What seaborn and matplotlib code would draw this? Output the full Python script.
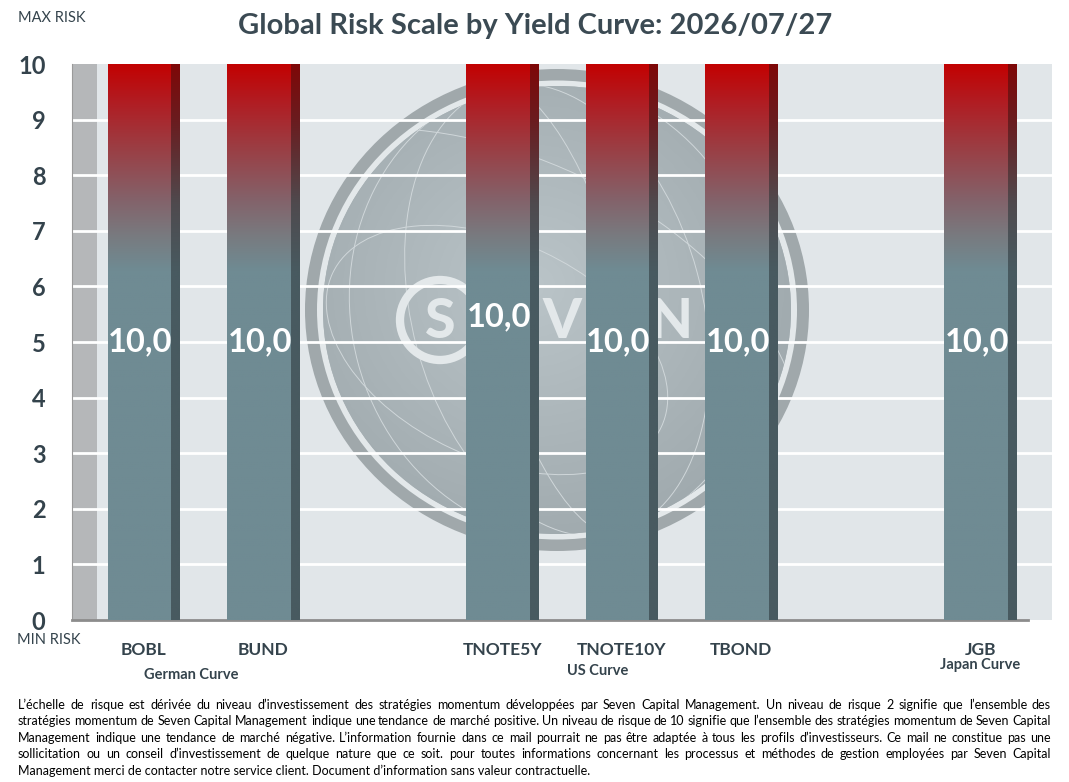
import numpy as np
import pandas as pd
import matplotlib
matplotlib.use("Agg")
import matplotlib.pyplot as plt
import seaborn as sns
from matplotlib.colors import LinearSegmentedColormap
from matplotlib.patches import Circle, Ellipse
from matplotlib.transforms import blended_transform_factory

# data
instruments = ["BOBL", "BUND", "TNOTE5Y", "TNOTE10Y", "TBOND", "JGB"]
risk_levels = [10.0, 10.0, 10.0, 10.0, 10.0, 10.0]
slot_order = ["BOBL", "BUND", "gap_a", "TNOTE5Y", "TNOTE10Y", "TBOND", "gap_b", "JGB"]
curve_groups = ["German Curve", "US Curve", "Japan Curve"]
curve_anchor = ["BOBL", "TNOTE10Y", "JGB"]
title_date = "2026/07/27"

footnote_lines = [
    "L’échelle de risque est dérivée du niveau d’investissement des stratégies momentum développées par Seven Capital Management. Un niveau de risque 2 signifie que l’ensemble des",
    "stratégies momentum de Seven Capital Management indique une tendance de marché positive. Un niveau de risque de 10 signifie que l’ensemble des stratégies momentum de Seven Capital",
    "Management indique une tendance de marché négative. L’information fournie dans ce mail pourrait ne pas être adaptée à tous les profils d’investisseurs. Ce mail ne constitue pas une",
    "sollicitation ou un conseil d’investissement de quelque nature que ce soit. pour toutes informations concernant les processus et méthodes de gestion employées par Seven Capital",
    "Management merci de contacter notre service client. Document d’information sans valeur contractuelle.",
]

sns.set_style("white")
plt.rcParams["font.family"] = ["Lato", "DejaVu Sans"]

DARK = "#34434c"
BG = "#e1e6e9"
W_PX, H_PX = 1069, 782
PLOT_L, PLOT_R, PLOT_T, PLOT_B = 72, 1052, 64, 620

df = pd.DataFrame({"instrument": instruments, "risk": risk_levels})

fig = plt.figure(figsize=(W_PX / 100, H_PX / 100), dpi=100)
rect = [PLOT_L / W_PX, 1 - PLOT_B / H_PX, (PLOT_R - PLOT_L) / W_PX, (PLOT_B - PLOT_T) / H_PX]

# background layer with the watermark globe, in pixel units
bg_ax = fig.add_axes(rect, zorder=0)
bg_ax.set_xlim(PLOT_L, PLOT_R)
bg_ax.set_ylim(PLOT_B, PLOT_T)
bg_ax.axis("off")
bg_ax.add_patch(plt.Rectangle((PLOT_L, PLOT_T), PLOT_R - PLOT_L, PLOT_B - PLOT_T, color=BG, zorder=0))
cx, cy, rx, ry = 557, 310, 252, 241
bg_ax.add_patch(Ellipse((cx, cy), 2 * rx, 2 * ry, color="#a0a8ab", lw=0, zorder=1))
bg_ax.add_patch(Ellipse((cx, cy), 2 * rx - 24, 2 * ry - 23, color="#e3e8ea", lw=0, zorder=1))
globe = Ellipse((cx, cy), 2 * rx - 36, 2 * ry - 34, color="#a9b3b7", lw=0, zorder=1)
bg_ax.add_patch(globe)
yy, xx = np.mgrid[-1:1:300j, -1:1:300j]
shade = np.clip(1 - np.hypot(xx + 0.1, yy + 0.1) / 1.25, 0, 1)
globe_cmap = LinearSegmentedColormap.from_list("globe", ["#9ca6aa", "#bac4c8"])
img = bg_ax.imshow(shade, cmap=globe_cmap, extent=(cx - rx, cx + rx, cy + ry, cy - ry),
                   zorder=2, interpolation="bilinear")
img.set_clip_path(globe)
for k in [0.3, 0.62, 0.88]:
    e = Ellipse((cx, cy), (2 * rx - 36) * k, 2 * ry - 20, angle=-15, fill=False,
                ec="#d0d7da", lw=0.7, zorder=3)
    bg_ax.add_patch(e)
    e.set_clip_path(globe)
for k in [0.45, 0.8]:
    e = Ellipse((cx - 60, cy + 40), 2 * rx * k * 1.6, 2 * ry * k, angle=25, fill=False,
                ec="#d0d7da", lw=0.7, zorder=3)
    bg_ax.add_patch(e)
    e.set_clip_path(globe)
bg_ax.add_patch(Circle((440, 320), 40, fill=False, ec="#e3e8ea", lw=6, zorder=4))
for letter, px in zip("SVN", [440, 562, 671]):
    bg_ax.text(px, 322, letter, ha="center", va="center", fontsize=40, fontweight="black",
               color="#e3e8ea", zorder=4)

# main bar chart on top
ax = fig.add_axes(rect, zorder=1)
ax.patch.set_alpha(0)

sns.barplot(data=df, x="instrument", y="risk", order=slot_order, width=0.6,
            color="#6f8b93", ax=ax, zorder=3, errorbar=None)

# gradient fill for the bars (teal at bottom to red at top)
front_cmap = LinearSegmentedColormap.from_list("front", [
    (0.0, "#6f8b93"), (0.63, "#6f8b93"), (0.69, "#787b80"), (0.76, "#846169"),
    (0.85, "#9b3e44"), (0.93, "#b01e24"), (1.0, "#c20202")])
side_cmap = LinearSegmentedColormap.from_list("side", [
    (0.0, "#485a60"), (0.63, "#485a60"), (0.75, "#4f4a4e"), (0.9, "#6a1c1f"), (1.0, "#7e0808")])
grad = np.linspace(0, 1, 256).reshape(-1, 1)

for bar in list(ax.patches):
    x, w, h = bar.get_x(), bar.get_width(), bar.get_height()
    bar.set_facecolor("none")
    bar.set_edgecolor("none")
    split = x + w * 0.885
    ax.imshow(grad * h / 10, cmap=front_cmap, vmin=0, vmax=1, origin="lower", aspect="auto",
              extent=(x, split, 0, h), zorder=3, interpolation="bilinear")
    ax.imshow(grad * h / 10, cmap=side_cmap, vmin=0, vmax=1, origin="lower", aspect="auto",
              extent=(split, x + w, 0, h), zorder=3, interpolation="bilinear")

# value labels
label_shift = {"TNOTE5Y": 0.45}
for name, val in zip(instruments, risk_levels):
    xi = slot_order.index(name)
    ax.text(xi - 0.03, val / 2 + label_shift.get(name, 0), f"{val:.1f}".replace(".", ","),
            ha="center", va="center", color="white", fontsize=23.5, fontweight="bold", zorder=5)

ax.set_xlim(-0.6, 7.6)
ax.set_ylim(0, 10)

# left grey band and white grid
ax.axvspan(-0.6, -0.39, color="#b5b7b9", zorder=0.6, lw=0)
for yv in range(1, 10):
    ax.axhline(yv, color="white", lw=2, zorder=1.5)

# axes styling
for side in ["top", "right"]:
    ax.spines[side].set_visible(False)
ax.spines["left"].set_color("#9a9a9a")
ax.spines["bottom"].set_color("#8c8c8c")
ax.spines["bottom"].set_linewidth(2)
ax.spines["bottom"].set_bounds(-0.6, 7.4)
ax.set_yticks(range(0, 11))
ax.tick_params(axis="y", length=0, pad=19, labelsize=17, labelcolor=DARK)
for t in ax.get_yticklabels():
    t.set_fontweight("bold")
ax.set_xticks(range(len(slot_order)))
ax.set_xticklabels([s if s in instruments else "" for s in slot_order],
                   fontsize=12.5, fontweight="bold", color=DARK)
ax.tick_params(axis="x", length=0, pad=16)
ax.set_xlabel("")
ax.set_ylabel("")

# curve group labels
bt = blended_transform_factory(ax.transData, fig.transFigure)
group_dx = [0.4, -0.2, 0.0]
group_y = [675, 671, 665]
for label, anchor, dx, gy in zip(curve_groups, curve_anchor, group_dx, group_y):
    ax.text(slot_order.index(anchor) + dx, 1 - gy / H_PX, label, transform=bt, ha="center",
            va="center", fontsize=10.5, fontweight="bold", color=DARK)

fig.text(18 / W_PX, 1 - 18 / H_PX, "MAX RISK", fontsize=10.5, color=DARK, va="center")
fig.text(17 / W_PX, 1 - 640 / H_PX, "MIN RISK", fontsize=10.5, color=DARK, va="center")
fig.text(535 / W_PX, 1 - 26 / H_PX, f"Global Risk Scale by Yield Curve: {title_date}",
         ha="center", va="center", fontsize=21, fontweight="bold", color="#3b4a53")

# justified disclaimer
renderer = fig.canvas.get_renderer()
x0, x1 = 18, 1051
line_y = [705, 721, 738, 754, 771]
for i, (line, ly) in enumerate(zip(footnote_lines, line_y)):
    yf = 1 - ly / H_PX
    if i == len(footnote_lines) - 1:
        fig.text(x0 / W_PX, yf, line, fontsize=9, color="black", va="center")
        continue
    words = line.split()
    arts = [fig.text(0, yf, wd, fontsize=9, color="black", va="center") for wd in words]
    widths = [a.get_window_extent(renderer).width for a in arts]
    gap = (x1 - x0 - sum(widths)) / (len(words) - 1)
    xp = x0
    for a, wd in zip(arts, widths):
        a.set_x(xp / W_PX)
        xp += wd + gap

fig.savefig("out.png", dpi=100, facecolor="white")
